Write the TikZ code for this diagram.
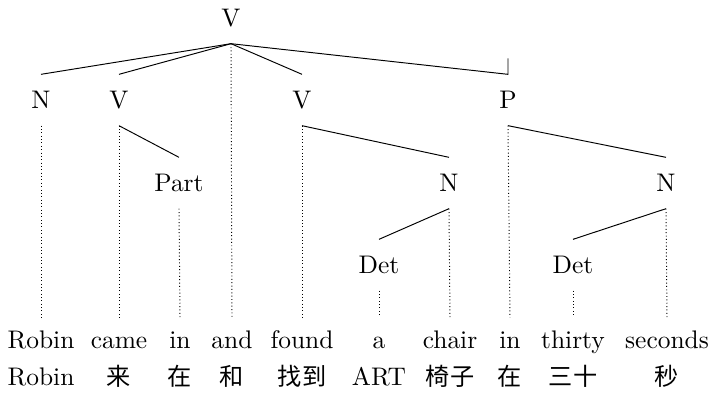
\documentclass[tikz,border=0pt]{standalone}
\usepackage{fontspec}
\newfontfamily\cjk{Noto Sans CJK SC}[Scale=0.95]
\begin{document}
\begin{tikzpicture}[x=0.4167pt, y=-0.4167pt,
    font=\fontsize{10.6}{13}\selectfont,
    cat/.style={minimum height=21pt, inner sep=1pt},
    word/.style={minimum height=21pt, inner sep=1pt, text height=1.6ex, text depth=0.45ex},
    trace/.style={densely dotted}
  ]
  \useasboundingbox (0,0) rectangle (709,400);

  \node[cat] (top) at (231,18) {V};
  \node[cat] (subj) at (41,100) {N};
  \node[cat] (came) at (119,100) {V};
  \node[cat] (found) at (302,100) {V};
  \node[cat] (prep) at (508,100) {P};
  \node[cat] (part) at (179,183) {Part};
  \node[cat] (obj) at (449,183) {N};
  \node[cat] (time) at (666,183) {N};
  \node[cat] (detA) at (379,265) {Det};
  \node[cat] (detB) at (573,265) {Det};

  \foreach \x/\w/\g [count=\i] in {41/Robin/Robin, 119/came/{\cjk 来}, 180/in/{\cjk 在},
      232/and/{\cjk 和}, 302/found/{\cjk 找到}, 379/a/ART, 450/chair/{\cjk 椅子},
      510/in/{\cjk 在}, 573/thirty/{\cjk 三十}, 667/seconds/{\cjk 秒}} {
    \node[word] (w\i) at (\x,343) {\w};
    \node[word] (g\i) at (\x,380) {\g};
  }

  \draw (top.south) -- (subj.north);
  \draw (top.south) -- (came.north);
  \draw (top.south) -- (found.north);
  \draw (top.south) -- (prep.north) -- ++(0,-16);
  \draw (came.south) -- (part.north);
  \draw (found.south) -- (obj.north);
  \draw (obj.south) -- (detA.north);
  \draw (prep.south) -- (time.north);
  \draw (time.south) -- (detB.north);

  \draw[trace] (subj.south) -- (w1.north);
  \draw[trace] (came.south) -- (w2.north);
  \draw[trace] (part.south) -- (w3.north);
  \draw[trace] (top.south) -- (w4.north);
  \draw[trace] (found.south) -- (w5.north);
  \draw[trace] (detA.south) -- (w6.north);
  \draw[trace] (obj.south) -- (w7.north);
  \draw[trace] (prep.south) -- (w8.north);
  \draw[trace] (detB.south) -- (w9.north);
  \draw[trace] (time.south) -- (w10.north);
\end{tikzpicture}
\end{document}
